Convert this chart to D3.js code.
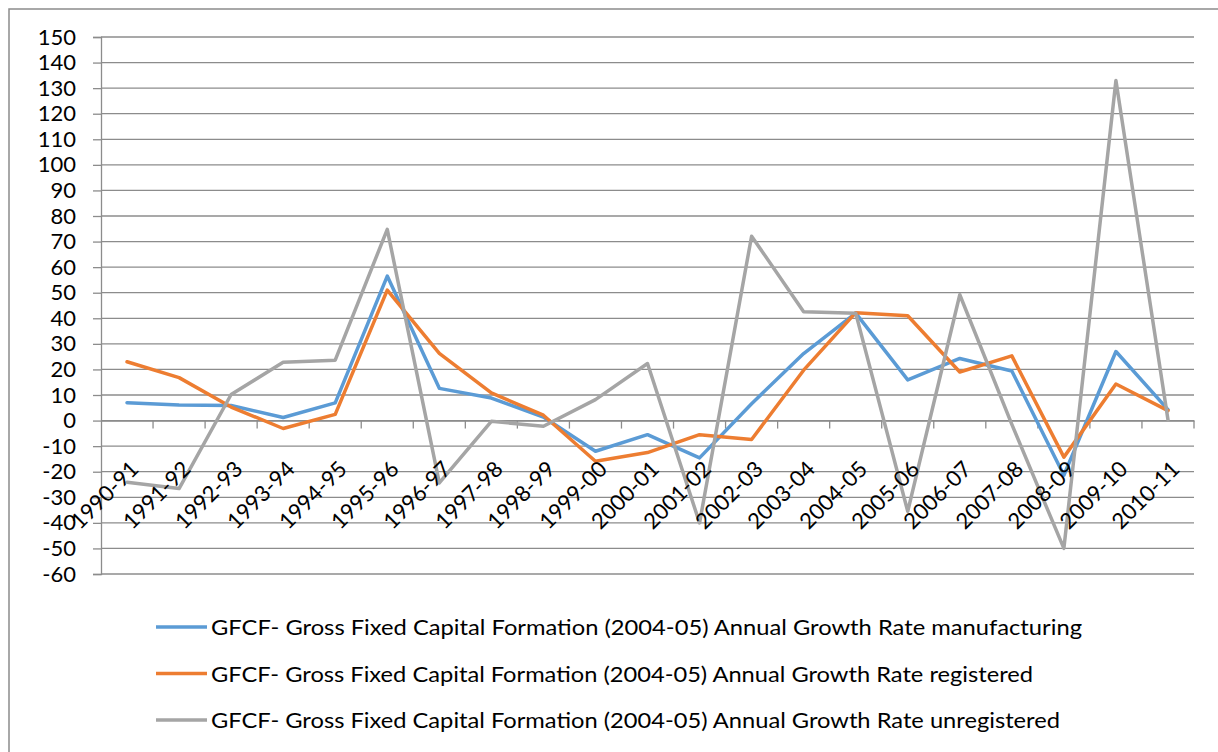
<!DOCTYPE html>
<html>
<head>
<meta charset="utf-8">
<script src="https://cdn.jsdelivr.net/npm/d3@7"></script>
<style>
  html, body { margin: 0; padding: 0; background: #fff; }
  svg { display: block; }
  text { font-family: "Lato", "Open Sans", sans-serif; fill: #000; }
</style>
</head>
<body>
<svg id="chart" width="1218" height="752"></svg>
<script>
const categories = ["1990-91","1991-92","1992-93","1993-94","1994-95","1995-96","1996-97","1997-98","1998-99","1999-00","2000-01","2001-02","2002-03","2003-04","2004-05","2005-06","2006-07","2007-08","2008-09","2009-10","2010-11"];
const manufacturing = [7.0, 6.1, 5.9, 1.2, 6.9, 56.5, 12.6, 8.8, 1.4, -12.0, -5.5, -14.6, 6.6, 26.2, 42.0, 15.9, 24.3, 19.4, -21.4, 27.0, 4.3];
const registered    = [23.0, 16.8, 5.3, -3.1, 2.4, 51.0, 26.3, 10.8, 2.1, -15.9, -12.5, -5.5, -7.4, 19.7, 42.2, 41.0, 19.0, 25.3, -14.3, 14.3, 3.9];
const unregistered  = [-24.1, -26.6, 10.2, 22.8, 23.6, 74.8, -24.4, -0.3, -2.2, 8.2, 22.3, -40.0, 72.1, 42.6, 42.0, -35.5, 49.2, -1.5, -50.0, 133.0, 0.3];
const yTicks = d3.range(-60, 151, 10);
const seriesNames = [
  "GFCF- Gross Fixed Capital Formation (2004-05) Annual Growth Rate manufacturing",
  "GFCF- Gross Fixed Capital Formation (2004-05) Annual Growth Rate registered",
  "GFCF- Gross Fixed Capital Formation (2004-05) Annual Growth Rate unregistered"
];
const colors = ["#5B9BD5", "#ED7D31", "#A5A5A5"];
const legendWidths = [871, 822, 849];

const series = [manufacturing, registered, unregistered].map((v, i) => ({name: seriesNames[i], values: v, color: colors[i]}));

const svg = d3.select("#chart");
const plotLeft = 101, plotRight = 1194, plotTop = 37, plotBottom = 574;

// outer border
svg.append("rect").attr("x", 9).attr("y", 9).attr("width", 1230).attr("height", 780)
  .attr("fill", "none").attr("stroke", "#8c8c8c").attr("stroke-width", 1.5);

const x = d3.scaleBand().domain(categories).range([plotLeft, plotRight]).paddingInner(0).paddingOuter(0);
const y = d3.scaleLinear().domain([-60, 150]).range([plotBottom, plotTop]);

// gridlines
svg.append("g").selectAll("line").data(yTicks).join("line")
  .attr("x1", plotLeft).attr("x2", plotRight)
  .attr("y1", d => y(d)).attr("y2", d => y(d))
  .attr("stroke", "#8c8c8c").attr("stroke-width", 1.3);

// y axis
const yAxis = d3.axisLeft(y).tickValues(yTicks).tickSize(8).tickPadding(17).tickFormat(d => String(d));
const gy = svg.append("g").attr("transform", `translate(${plotLeft},0)`).call(yAxis);
gy.select(".domain").attr("stroke", "#8c8c8c").attr("stroke-width", 1.3);
gy.selectAll(".tick line").attr("stroke", "#8c8c8c").attr("stroke-width", 1.3);
gy.selectAll(".tick text").style("font-size", "22px").style("font-family", "Lato, 'Open Sans', sans-serif").attr("fill", "#000");

// x axis at zero
const xAxis = d3.axisBottom(x).tickSize(0).tickFormat("");
const gx = svg.append("g").attr("transform", `translate(0,${y(0)})`).call(xAxis);
gx.select(".domain").attr("stroke", "#8c8c8c").attr("stroke-width", 1.3);
gx.selectAll(".tick").remove();
const boundaries = categories.map(c => x(c)).concat([x(categories[categories.length-1]) + x.bandwidth()]);
gx.selectAll(".bt").data(boundaries.slice(1)).join("line").attr("class", "bt")
  .attr("x1", d => d).attr("x2", d => d).attr("y1", 0).attr("y2", 8)
  .attr("stroke", "#8c8c8c").attr("stroke-width", 1.3);

// lines
const cx = c => x(c) + x.bandwidth() / 2;
const line = d3.line().x((d, i) => cx(categories[i])).y(d => y(d));
svg.append("g").selectAll("path").data(series).join("path")
  .attr("d", d => line(d.values))
  .attr("fill", "none").attr("stroke", d => d.color).attr("stroke-width", 3.5)
  .attr("stroke-linejoin", "round").attr("stroke-linecap", "round");

// x labels (rotated)
svg.append("g").selectAll("text").data(categories).join("text")
  .attr("transform", d => `translate(${cx(d) + 13},${y(0) + 50}) rotate(-45)`)
  .attr("text-anchor", "end")
  .style("font-size", "22px")
  .text(d => d);

// legend
const lg = svg.append("g");
series.forEach((s, i) => {
  const ly = 627 + i * 46.5;
  lg.append("line").attr("x1", 156).attr("x2", 207).attr("y1", ly).attr("y2", ly)
    .attr("stroke", s.color).attr("stroke-width", 3.5);
  lg.append("text").attr("x", 211).attr("y", ly + 8)
    .style("font-size", "22px")
    .attr("textLength", legendWidths[i]).attr("lengthAdjust", "spacingAndGlyphs")
    .text(s.name);
});
</script>
</body>
</html>
